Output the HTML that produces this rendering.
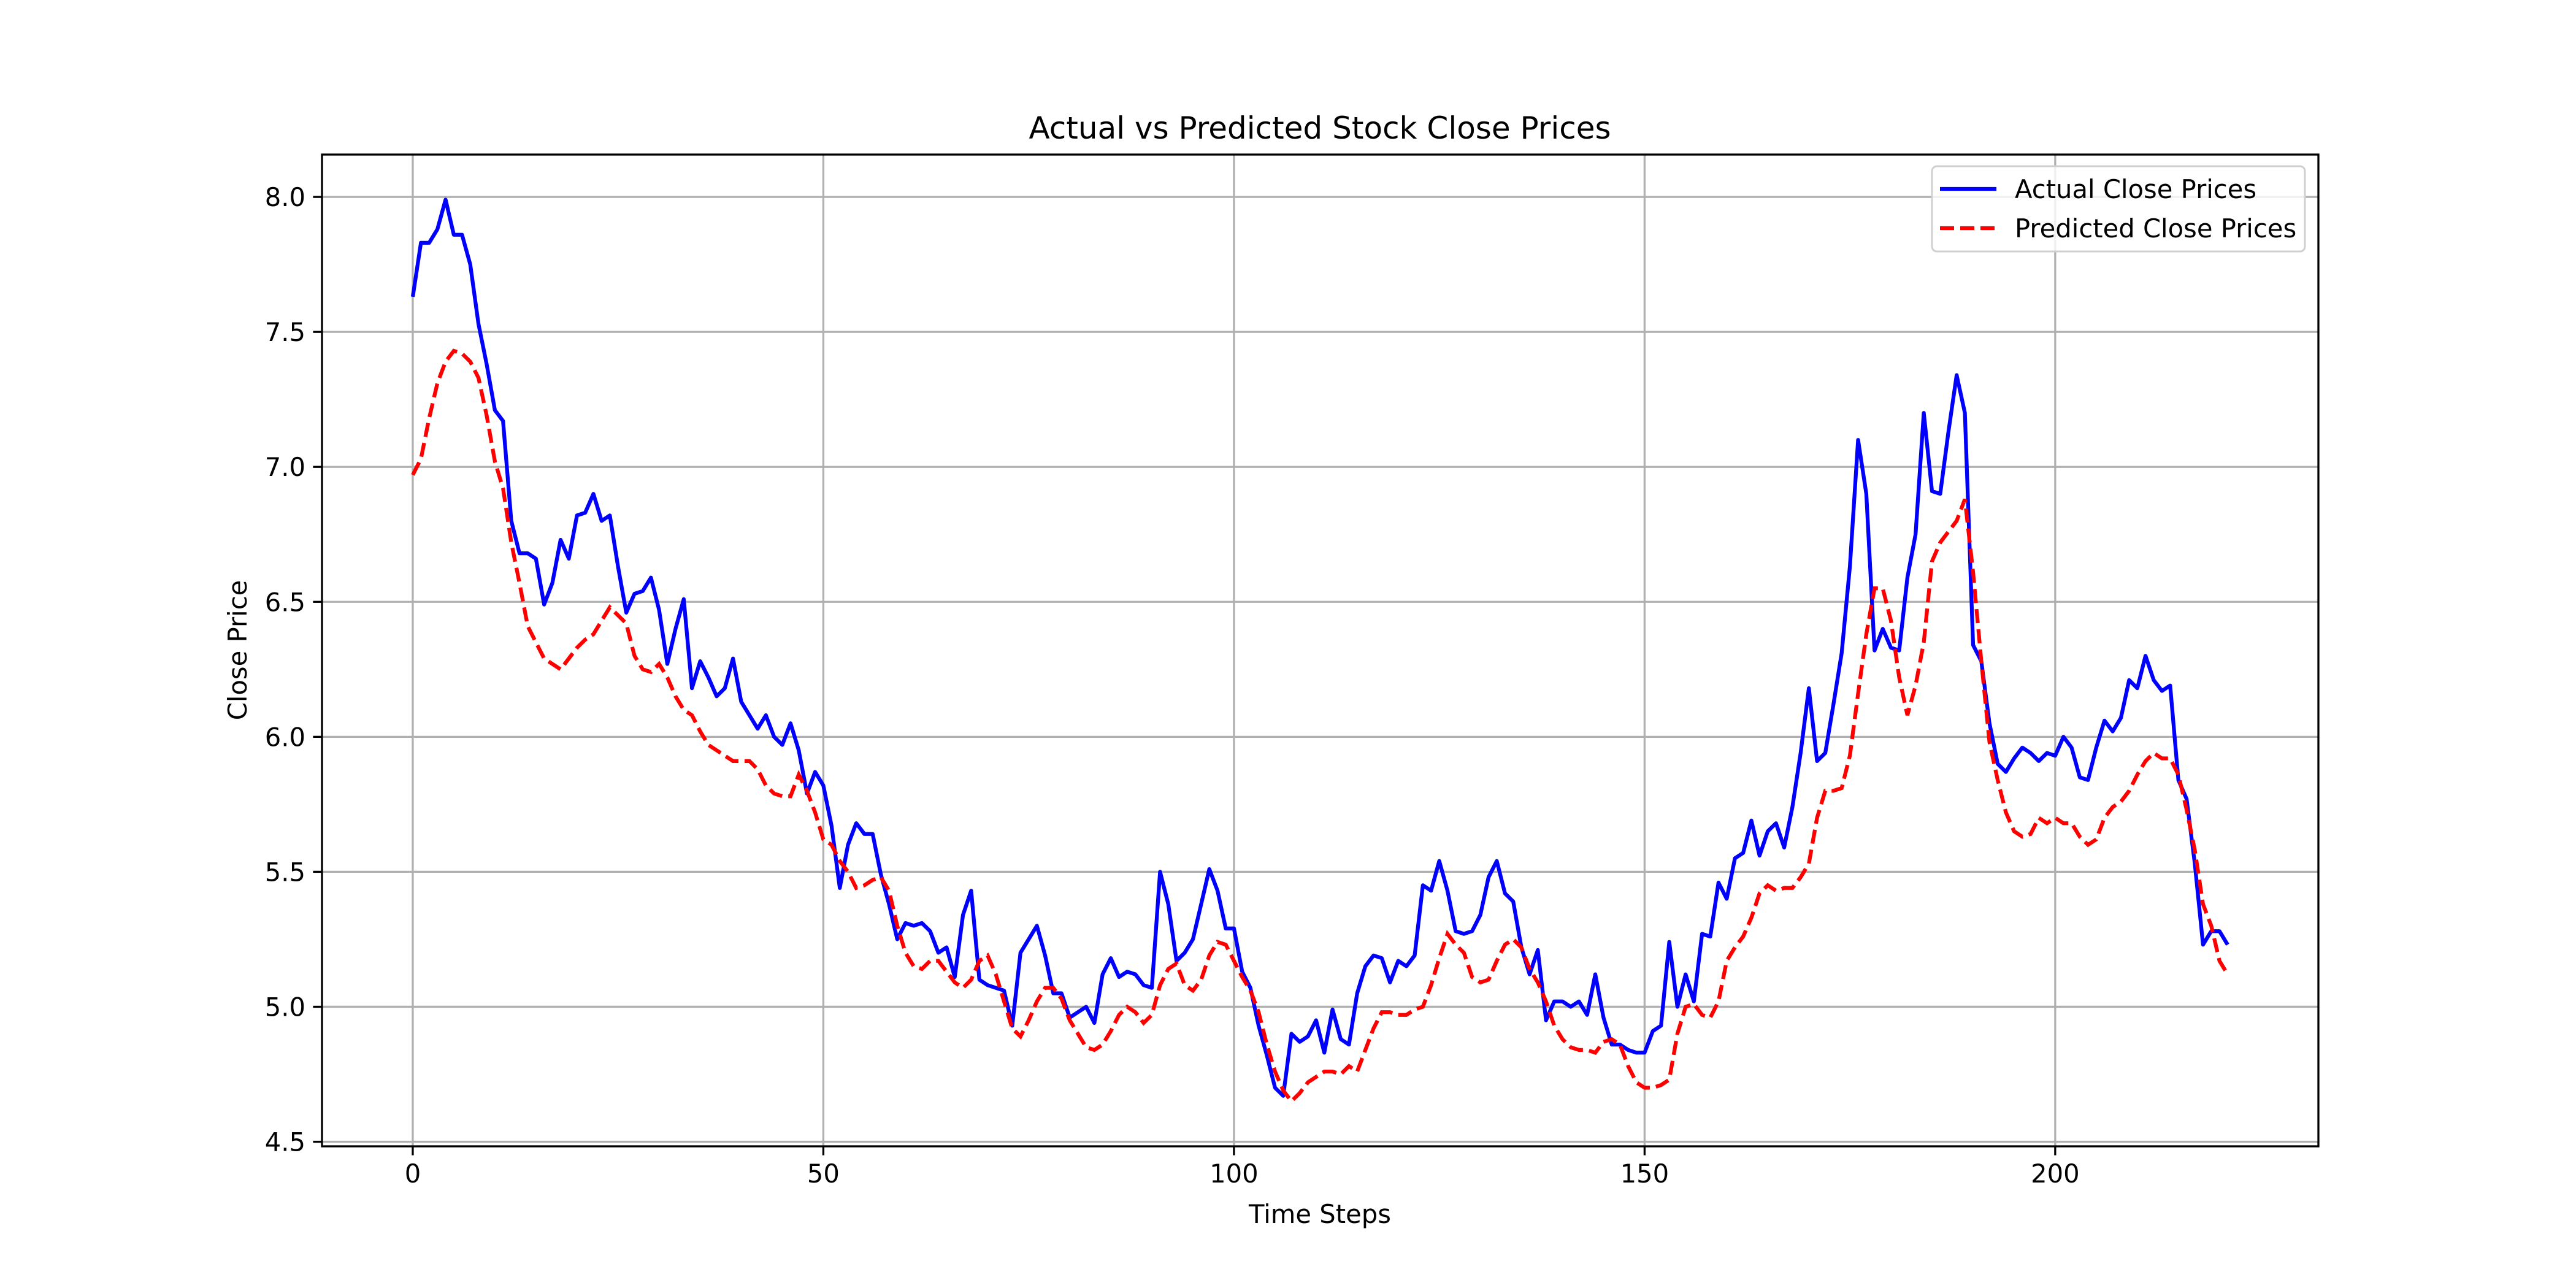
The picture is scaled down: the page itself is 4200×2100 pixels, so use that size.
<!DOCTYPE html>
<html><head><meta charset="utf-8"><style>html,body{margin:0;padding:0;background:#fff}svg{display:block}text{font-family:"DejaVu Sans","Liberation Sans",sans-serif;fill:#000}</style></head>
<body>
<svg id="chart" width="4200" height="2100" viewBox="0 0 4200 2100" xmlns="http://www.w3.org/2000/svg">
<rect width="4200" height="2100" fill="#fff"/>
<g id="grid"></g>
<g id="series"></g>
<rect x="525" y="252" width="3255" height="1617" fill="none" stroke="#000" stroke-width="3.3"/>
<g id="ticks"></g>
<text x="2152" y="226" font-size="50" text-anchor="middle">Actual vs Predicted Stock Close Prices</text>
<text x="2152" y="1994" font-size="41.7" text-anchor="middle">Time Steps</text>
<text x="402" y="1060" font-size="41.7" text-anchor="middle" transform="rotate(-90 402 1060)">Close Price</text>
<g>
<rect x="3150" y="271" width="608" height="139" rx="8" fill="#fff" fill-opacity="0.8" stroke="#d0d0d0" stroke-width="3"/>
<line x1="3163" y1="308" x2="3255" y2="308" stroke="#0000ff" stroke-width="6.25"/>
<text x="3285" y="323" font-size="41.7">Actual Close Prices</text>
<line x1="3163" y1="372" x2="3255" y2="372" stroke="#ff0000" stroke-width="6.25" stroke-dasharray="23,10"/>
<text x="3285" y="387" font-size="41.7">Predicted Close Prices</text>
</g>
</svg>
<script>
const actual=[7.63,7.83,7.83,7.88,7.99,7.86,7.86,7.75,7.53,7.38,7.21,7.17,6.80,6.68,6.68,6.66,6.49,6.57,6.73,6.66,6.82,6.83,6.90,6.80,6.82,6.63,6.46,6.53,6.54,6.59,6.47,6.27,6.40,6.51,6.18,6.28,6.22,6.15,6.18,6.29,6.13,6.08,6.03,6.08,6.00,5.97,6.05,5.95,5.79,5.87,5.82,5.67,5.44,5.60,5.68,5.64,5.64,5.49,5.38,5.25,5.31,5.30,5.31,5.28,5.20,5.22,5.11,5.34,5.43,5.10,5.08,5.07,5.06,4.93,5.20,5.25,5.30,5.19,5.05,5.05,4.96,4.98,5.00,4.94,5.12,5.18,5.11,5.13,5.12,5.08,5.07,5.50,5.38,5.17,5.20,5.25,5.38,5.51,5.43,5.29,5.29,5.13,5.07,4.93,4.82,4.70,4.67,4.90,4.87,4.89,4.95,4.83,4.99,4.88,4.86,5.05,5.15,5.19,5.18,5.09,5.17,5.15,5.19,5.45,5.43,5.54,5.43,5.28,5.27,5.28,5.34,5.48,5.54,5.42,5.39,5.22,5.12,5.21,4.95,5.02,5.02,5.00,5.02,4.97,5.12,4.96,4.86,4.86,4.84,4.83,4.83,4.91,4.93,5.24,5.00,5.12,5.02,5.27,5.26,5.46,5.40,5.55,5.57,5.69,5.56,5.65,5.68,5.59,5.74,5.94,6.18,5.91,5.94,6.12,6.31,6.63,7.10,6.90,6.32,6.40,6.33,6.32,6.59,6.75,7.20,6.91,6.90,7.13,7.34,7.20,6.34,6.28,6.05,5.90,5.87,5.92,5.96,5.94,5.91,5.94,5.93,6.00,5.96,5.85,5.84,5.96,6.06,6.02,6.07,6.21,6.18,6.30,6.21,6.17,6.19,5.84,5.77,5.53,5.23,5.28,5.28,5.23];
const predicted=[6.97,7.03,7.18,7.31,7.39,7.43,7.42,7.39,7.33,7.19,7.02,6.92,6.72,6.57,6.41,6.35,6.29,6.27,6.25,6.29,6.33,6.36,6.38,6.43,6.48,6.45,6.42,6.30,6.25,6.24,6.27,6.22,6.15,6.10,6.08,6.02,5.97,5.95,5.93,5.91,5.91,5.91,5.88,5.82,5.79,5.78,5.78,5.86,5.80,5.72,5.62,5.60,5.54,5.50,5.44,5.45,5.47,5.48,5.43,5.30,5.20,5.15,5.14,5.17,5.17,5.13,5.09,5.07,5.10,5.17,5.19,5.12,5.02,4.92,4.89,4.95,5.02,5.07,5.07,5.03,4.95,4.90,4.85,4.84,4.86,4.91,4.97,5.00,4.98,4.94,4.97,5.08,5.14,5.16,5.08,5.06,5.10,5.19,5.24,5.23,5.17,5.11,5.06,4.98,4.86,4.76,4.69,4.65,4.68,4.72,4.74,4.76,4.76,4.75,4.78,4.76,4.84,4.92,4.98,4.98,4.97,4.97,4.99,5.00,5.08,5.18,5.27,5.23,5.20,5.11,5.09,5.10,5.17,5.23,5.25,5.22,5.14,5.09,5.02,4.93,4.88,4.85,4.84,4.84,4.83,4.87,4.88,4.86,4.78,4.72,4.70,4.70,4.71,4.73,4.90,5.00,5.01,4.97,4.96,5.02,5.17,5.22,5.26,5.33,5.42,5.45,5.43,5.44,5.44,5.48,5.53,5.70,5.80,5.80,5.81,5.93,6.16,6.38,6.55,6.55,6.43,6.22,6.08,6.19,6.35,6.65,6.72,6.76,6.80,6.88,6.61,6.28,5.98,5.84,5.72,5.65,5.63,5.64,5.70,5.68,5.70,5.68,5.68,5.63,5.60,5.62,5.70,5.74,5.76,5.80,5.86,5.91,5.94,5.92,5.92,5.86,5.73,5.58,5.38,5.30,5.17,5.12];
const xTicks=[0,50,100,150,200];
const yTicks=[4.5,5.0,5.5,6.0,6.5,7.0,7.5,8.0];
const yTickLabels=["4.5","5.0","5.5","6.0","6.5","7.0","7.5","8.0"];

const L=525,R=3780,T=252,B=1869;
const n=actual.length;
const xmin=-(n-1)*0.05,xmax=(n-1)*1.05;
const all=actual.concat(predicted);
const dmin=Math.min(...all),dmax=Math.max(...all),pad=(dmax-dmin)*0.05;
const ymin=dmin-pad,ymax=dmax+pad;
const sx=v=>L+(v-xmin)/(xmax-xmin)*(R-L);
const sy=v=>B-(v-ymin)/(ymax-ymin)*(B-T);
const NS="http://www.w3.org/2000/svg";
const grid=document.getElementById('grid'),ticks=document.getElementById('ticks'),series=document.getElementById('series');
function mk(tag,attrs,parent){const e=document.createElementNS(NS,tag);for(const k in attrs)e.setAttribute(k,attrs[k]);parent.appendChild(e);return e;}
xTicks.forEach(v=>{
  const x=sx(v);
  const g=mk('line',{x1:x,y1:T,x2:x,y2:B,stroke:'#b0b0b0','stroke-width':3.3},grid);
  
  
  const t=mk('line',{x1:x,y1:B,x2:x,y2:B+14.6,stroke:'#000','stroke-width':3.3},ticks);
  
  
  const l=mk('text',{x:x,y:B+59,'font-size':41.7,'text-anchor':'middle'},ticks);
  l.textContent=String(v);
  
  
});
yTicks.forEach((v,i)=>{
  const y=sy(v);
  const g=mk('line',{x1:L,y1:y,x2:R,y2:y,stroke:'#b0b0b0','stroke-width':3.3},grid);
  
  
  const t=mk('line',{x1:L-14.6,y1:y,x2:L,y2:y,stroke:'#000','stroke-width':3.3},ticks);
  
  
  const l=mk('text',{x:L-27,y:y+15,'font-size':41.7,'text-anchor':'end'},ticks);
  l.textContent=yTickLabels[i];
  
  
});
function path(arr){return arr.map((v,i)=>(i?'L':'M')+sx(i).toFixed(1)+','+sy(v).toFixed(1)).join(' ');}
const pa=mk('path',{d:path(actual),fill:'none',stroke:'#0000ff','stroke-width':6.25,'stroke-linejoin':'round'},series);


const pp=mk('path',{d:path(predicted),fill:'none',stroke:'#ff0000','stroke-width':6.25,'stroke-dasharray':'23,10'},series);


</script>
</body></html>
